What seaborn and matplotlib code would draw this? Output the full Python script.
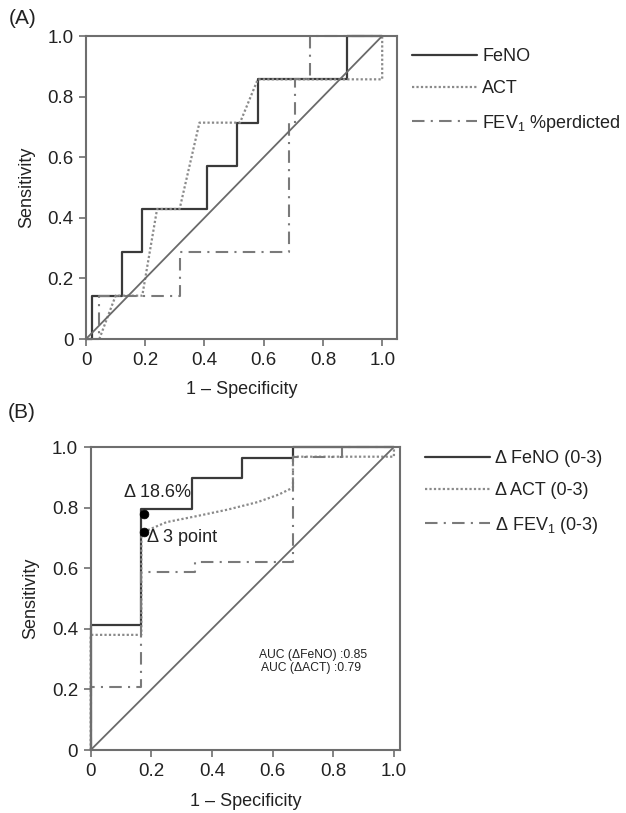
import matplotlib
matplotlib.use('Agg')
import matplotlib.pyplot as plt
import seaborn as sns
import pandas as pd
from matplotlib.lines import Line2D

sns.set_style('white')
plt.rcParams['font.family'] = ['Liberation Sans', 'DejaVu Sans']
plt.rcParams['mathtext.fontset'] = 'custom'
plt.rcParams['mathtext.rm'] = 'Liberation Sans'
plt.rcParams['mathtext.it'] = 'Liberation Sans:italic'
plt.rcParams['text.color'] = '#222222'
plt.rcParams['axes.labelcolor'] = '#222222'
plt.rcParams['xtick.labelcolor'] = '#222222'
plt.rcParams['ytick.labelcolor'] = '#222222'

# ---------------- data ----------------
tick_vals = [0, 0.2, 0.4, 0.6, 0.8, 1.0]
tick_labels = ['0', '0.2', '0.4', '0.6', '0.8', '1.0']

# Panel A
a_feno_x = [0, 0.02, 0.02, 0.12, 0.12, 0.19, 0.19, 0.41, 0.41, 0.51, 0.51, 0.58, 0.58, 0.88, 0.88, 1.0]
a_feno_y = [0, 0, 0.143, 0.143, 0.286, 0.286, 0.429, 0.429, 0.571, 0.571, 0.714, 0.714, 0.857, 0.857, 1.0, 1.0]
a_act_x = [0.045, 0.10, 0.19, 0.24, 0.316, 0.383, 0.52, 0.58, 1.0, 1.0]
a_act_y = [0, 0.143, 0.143, 0.429, 0.429, 0.714, 0.714, 0.857, 0.857, 1.0]
a_fev_x = [0, 0.045, 0.045, 0.316, 0.316, 0.684, 0.684, 0.707, 0.707, 0.755, 0.755, 1.0]
a_fev_y = [0, 0, 0.143, 0.143, 0.286, 0.286, 0.714, 0.714, 0.857, 0.857, 1.0, 1.0]
a_labels = ['FeNO', 'ACT', r'FEV$_\mathregular{1}$ %perdicted']

# Panel B
b_feno_x = [0, 0, 0.167, 0.167, 0.333, 0.333, 0.5, 0.5, 0.667, 0.667, 1.0]
b_feno_y = [0, 0.413, 0.413, 0.796, 0.796, 0.897, 0.897, 0.963, 0.963, 1.0, 1.0]
b_act_x = [0, 0, 0.167, 0.167, 0.175, 0.25, 0.35, 0.45, 0.55, 0.62, 0.667, 0.667, 1.0, 1.0]
b_act_y = [0, 0.38, 0.38, 0.72, 0.72, 0.752, 0.772, 0.793, 0.818, 0.843, 0.866, 0.968, 0.968, 1.0]
b_fev_x = [0, 0, 0.167, 0.167, 0.343, 0.343, 0.667, 0.667, 0.83, 0.83, 1.0]
b_fev_y = [0, 0.209, 0.209, 0.587, 0.587, 0.62, 0.62, 0.966, 0.966, 1.0, 1.0]
b_labels = [r'Δ FeNO (0-3)', r'Δ ACT (0-3)', r'Δ FEV$_\mathregular{1}$ (0-3)']
b_points_x = [0.175, 0.175]
b_points_y = [0.78, 0.72]
b_point_labels = ['Δ 18.6%', 'Δ 3 point']
auc_lines = ['AUC (ΔFeNO) :0.85', 'AUC (ΔACT) :0.79']

# ---------------- styles ----------------
c_feno = '#3a3a3a'
c_act = '#8a8a8a'
c_fev = '#7a7a7a'
c_diag = '#6a6a6a'
spine_c = '#6e6e6e'
styles = [dict(color=c_feno, lw=1.6, ls='-'),
          dict(color=c_act, lw=1.6, ls=(0, (1, 1))),
          dict(color=c_fev, lw=1.5, ls=(0, (6, 3, 1, 3)))]

fig = plt.figure(figsize=(6.26, 8.13), dpi=100)
axA = fig.add_axes([86/626, 1-339/813, (397-86)/626, (339-36)/813])
axB = fig.add_axes([90.7/626, 1-750/813, (400-90.7)/626, (750-447)/813])


def draw(ax, series, xmax, xpad):
    for (xs, ys), st in zip(series, styles):
        df = pd.DataFrame({'x': xs, 'y': ys})
        sns.lineplot(data=df, x='x', y='y', sort=False, estimator=None, ax=ax,
                     color=st['color'], lw=st['lw'], linestyle=st['ls'], clip_on=False)
    diag = pd.DataFrame({'x': [0, 1], 'y': [0, 1]})
    sns.lineplot(data=diag, x='x', y='y', sort=False, estimator=None, ax=ax,
                 color=c_diag, lw=1.3, clip_on=False)
    ax.set_xlim(0, xmax)
    ax.set_ylim(0, 1)
    ax.set_xticks(tick_vals)
    ax.set_xticklabels(tick_labels)
    ax.set_yticks(tick_vals)
    ax.set_yticklabels(tick_labels)
    ax.tick_params(axis='both', direction='out', length=5, width=1.2, color=spine_c,
                   labelsize=13.5, pad=4, bottom=True, left=True)
    for s in ax.spines.values():
        s.set_color(spine_c)
        s.set_linewidth(1.5)
    ax.set_xlabel('1 – Specificity', fontsize=13, labelpad=xpad)
    ax.set_ylabel('Sensitivity', fontsize=13, labelpad=9)


draw(axA, [(a_feno_x, a_feno_y), (a_act_x, a_act_y), (a_fev_x, a_fev_y)], 1.05, 9)
draw(axB, [(b_feno_x, b_feno_y), (b_act_x, b_act_y), (b_fev_x, b_fev_y)], 1.02, 10)

# points and annotations in B
sns.scatterplot(x=b_points_x, y=b_points_y, ax=axB, color='black', s=40, zorder=5,
                edgecolor='black', clip_on=False)
axB.text(0.11, 0.85, b_point_labels[0], fontsize=13, va='center', ha='left')
axB.text(0.186, 0.70, b_point_labels[1], fontsize=13, va='center', ha='left')
axB.text(0.556, 0.315, auc_lines[0], fontsize=8.7, va='center', ha='left')
axB.text(0.563, 0.272, auc_lines[1], fontsize=8.7, va='center', ha='left')


def handles():
    return [Line2D([0], [0], color=st['color'], lw=st['lw'], linestyle=st['ls']) for st in styles]


axA.legend(handles(), a_labels, loc='upper left', bbox_to_anchor=(412/626, 1-48/813),
           bbox_transform=fig.transFigure, frameon=False, fontsize=13, handlelength=3.6,
           handletextpad=0.3, labelspacing=0.85, borderpad=0, borderaxespad=0)
axB.legend(handles(), b_labels, loc='upper left', bbox_to_anchor=(425/626, 1-450/813),
           bbox_transform=fig.transFigure, frameon=False, fontsize=13, handlelength=3.6,
           handletextpad=0.3, labelspacing=0.85, borderpad=0, borderaxespad=0)

fig.text(9/626, 1-19/813, '(A)', fontsize=15, va='center', ha='left')
fig.text(8/626, 1-412/813, '(B)', fontsize=15, va='center', ha='left')

fig.savefig('out.png', dpi=100)
